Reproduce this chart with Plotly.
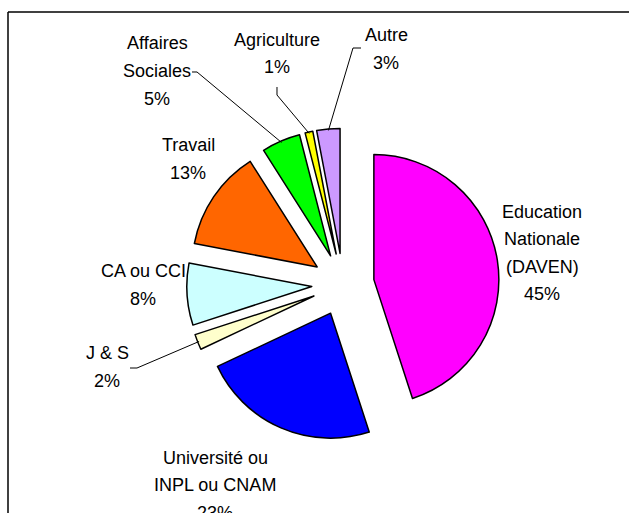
import math
import plotly.graph_objects as go

W, H = 629, 513

# Data: share of each body, in percent, clockwise from 12 o'clock
categories = [
    "Education Nationale (DAVEN)",
    "Université ou INPL ou CNAM",
    "J & S",
    "CA ou CCI",
    "Travail",
    "Affaires Sociales",
    "Agriculture",
    "Autre",
]
label_lines = [
    ["Education", "Nationale", "(DAVEN)"],
    ["Université ou", "INPL ou CNAM"],
    ["J & S"],
    ["CA ou CCI"],
    ["Travail"],
    ["Affaires", "Sociales"],
    ["Agriculture"],
    ["Autre"],
]
shares = [45, 23, 2, 8, 13, 5, 1, 3]

# Styling
colors = ["#FF00FF", "#0000FF", "#FFFFCC", "#CCFFFF", "#FF6600", "#00FF00", "#FFFF00", "#CC99FF"]
FONT = dict(family="Liberation Sans, Arial, sans-serif", size=18, color="black")
LINE_GAP = 27.5  # px between label lines

# Pie geometry (pixels from top-left of the page)
CX, CY = 343.0, 284.5
R = 125.0
PULL = 0.25
HALF = R * (1 + PULL)

# Label block centres and leader-line stubs (pixels)
label_layout = {
    "Education Nationale (DAVEN)": dict(center=(542, 253)),
    "Université ou INPL ou CNAM": dict(center=(215, 485)),
    "J & S": dict(center=(107, 367), leader=[(130, 368), (137, 368)]),
    "CA ou CCI": dict(center=(143, 285)),
    "Travail": dict(center=(188, 159)),
    "Affaires Sociales": dict(center=(157, 71), leader=[(192, 72), (197, 72)]),
    "Agriculture": dict(center=(277, 53.5), leader=[(277, 87), (277, 95)]),
    "Autre": dict(center=(386, 49), leader=[(361, 48), (353, 48)]),
}


def px_to_paper(x, y):
    return x / W, 1 - y / H


fig = go.Figure()
fig.add_trace(
    go.Pie(
        labels=categories,
        values=shares,
        sort=False,
        direction="clockwise",
        rotation=0,
        pull=[PULL] * len(shares),
        marker=dict(colors=colors, line=dict(color="black", width=1.5)),
        textinfo="none",
        hoverinfo="label+percent",
        showlegend=False,
        domain=dict(
            x=[(CX - HALF) / W, (CX + HALF) / W],
            y=[1 - (CY + HALF) / H, 1 - (CY - HALF) / H],
        ),
    )
)

annotations = []
shapes = []
total = float(sum(shares))
start = 0.0
for cat, lines, val in zip(categories, label_lines, shares):
    span = 360.0 * val / total
    mid = math.radians(start + span / 2)
    start += span

    cfg = label_layout[cat]
    bx, by = cfg["center"]
    texts = lines + [f"{val}%"]
    n = len(texts)
    for i, t in enumerate(texts):
        ly = by + (i - (n - 1) / 2) * LINE_GAP
        x, y = px_to_paper(bx, ly)
        annotations.append(
            dict(x=x, y=y, xref="paper", yref="paper", text=t, showarrow=False,
                 font=FONT, xanchor="center", yanchor="middle")
        )

    if "leader" in cfg:
        # leader ends on the outer arc of the pulled slice, at its mid-angle
        rr = HALF - 1.5
        ax = CX + rr * math.sin(mid)
        ay = CY - rr * math.cos(mid)
        pts = cfg["leader"] + [(ax, ay)]
        path = ""
        for k, (px, py) in enumerate(pts):
            x, y = px_to_paper(px, py)
            path += ("M" if k == 0 else "L") + f"{x:.5f},{y:.5f} "
        shapes.append(dict(type="path", xref="paper", yref="paper", path=path.strip(),
                           line=dict(color="black", width=1)))

# Chart-area frame (top and left edges visible)
fx, fy = px_to_paper(8, 12)
shapes.append(dict(type="line", xref="paper", yref="paper", x0=fx, y0=fy, x1=1.02, y1=fy,
                   line=dict(color="black", width=1.5)))
shapes.append(dict(type="line", xref="paper", yref="paper", x0=fx, y0=fy, x1=fx, y1=-0.02,
                   line=dict(color="black", width=1.5)))

fig.update_layout(
    width=W,
    height=H,
    margin=dict(l=0, r=0, t=0, b=0),
    paper_bgcolor="white",
    plot_bgcolor="white",
    annotations=annotations,
    shapes=shapes,
)

fig.write_html("out.html")
